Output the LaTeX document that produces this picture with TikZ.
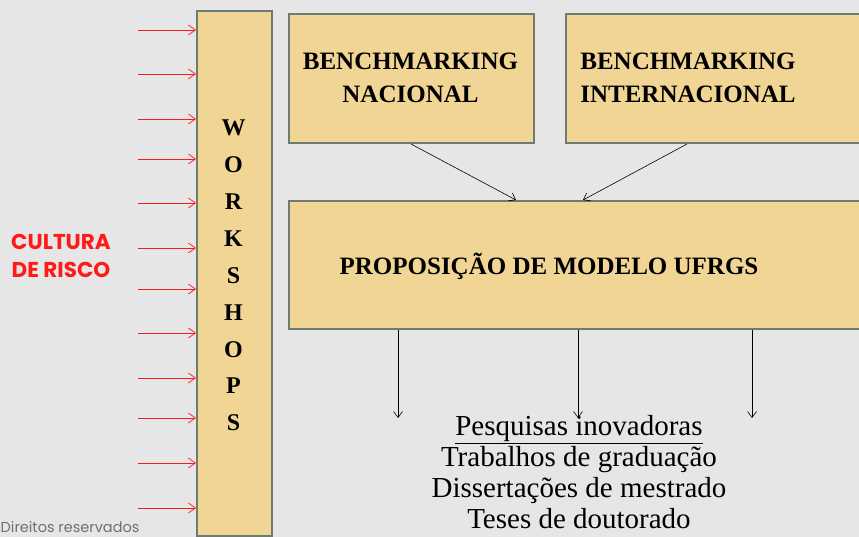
\documentclass[tikz,border=0pt]{standalone}
\usepackage{fontspec}
\setmainfont{Liberation Serif}
\newfontfamily\redfont{Poppins}
\usetikzlibrary{arrows.meta}
\definecolor{bg}{HTML}{E6E6E6}
\definecolor{boxfill}{HTML}{F0D595}
\definecolor{boxline}{HTML}{6E7A72}
\definecolor{cred}{HTML}{FF1A1A}
\definecolor{cgray}{HTML}{707070}
\begin{document}
\begin{tikzpicture}[x=1pt,y=-1pt,
  box/.style={draw=boxline, line width=2pt, fill=boxfill, inner sep=0pt, anchor=north west},
  boxtext/.style={font=\fontsize{25}{33}\selectfont\bfseries, align=center, inner sep=0pt},
  redarrow/.style={draw=cred, line width=0.7pt, -{Straight Barb[length=7pt,width=10pt]}},
  blackarrow/.style={draw=black, line width=0.6pt, -{Straight Barb[length=6pt,width=9pt]}}]
\fill[bg] (0,0) rectangle (859,537);
\useasboundingbox (0,0) rectangle (859,537);

% boxes
\node[box, minimum width=75pt, minimum height=525pt] (ws) at (196,10) {};
\node[box, minimum width=245pt, minimum height=129pt] (bn) at (288,13) {};
\node[box, minimum width=320pt, minimum height=129pt] (bi) at (565,13) {};
\node[box, minimum width=600pt, minimum height=128pt] (mod) at (288,200) {};

% texts
\node[boxtext] (bntext) at (410.5,78) {BENCHMARKING\\NACIONAL};
\node[boxtext] (bitext) at (688,78) {BENCHMARKING\\INTERNACIONAL};
\node[boxtext] (modtext) at (549,266) {PROPOSIÇÃO DE MODELO UFRGS};
\node[font=\fontsize{24}{36.9}\selectfont\bfseries, align=center, inner sep=0pt] (wstext) at (233.5,275.5)
  {W\\O\\R\\K\\S\\H\\O\\P\\S};
\node[font=\redfont\fontsize{21.5}{28}\selectfont\bfseries, text=cred, align=center, inner sep=0pt] (cult) at (61,256)
  {CULTURA\\DE RISCO};
\node[font=\redfont\fontsize{14.5}{17}\selectfont, text=cgray, anchor=west, inner sep=0pt] (dir) at (0.5,527)
  {Direitos reservados};
\node[font=\fontsize{29}{31}\selectfont, align=center, inner sep=0pt, anchor=north] (out) at (579,415)
  {\underline{Pesquisas inovadoras}\\Trabalhos de graduação\\Dissertações de mestrado\\Teses de doutorado};

% red arrows
\foreach \yy [count=\i] in {30,74,119,159,203,248,289,333,378,418,463,508} {
  \coordinate (r\i) at (138,\yy);
  \draw[redarrow] (r\i) -- (ws.west |- r\i);
}

% arrows from benchmarking boxes
\coordinate (m1) at (516,200);
\coordinate (m2) at (583,200);
\draw[blackarrow] (bn.south -| 411,0) -- (m1);
\draw[blackarrow] (bi.south -| 687,0) -- (m2);

% down arrows
\foreach \xx [count=\i] in {398,578,752} {
  \coordinate (d\i) at (\xx,418);
  \draw[blackarrow] (mod.south -| d\i) -- (d\i);
}
\end{tikzpicture}
\end{document}
